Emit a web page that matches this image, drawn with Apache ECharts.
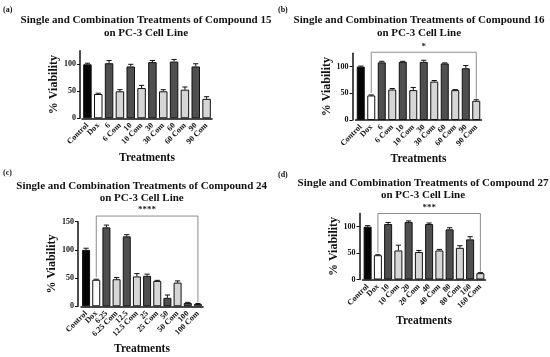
<!DOCTYPE html>
<html>
<head>
<meta charset="utf-8">
<script src="https://cdn.jsdelivr.net/npm/echarts@6/dist/echarts.min.js"></script>
<style>html,body{margin:0;padding:0;background:#fff;}#c{width:550px;height:357px;}</style>
</head>
<body>
<div id="c"></div>
<script>
// ---- Data ----
const catsA = ['Control','Dox','6','6 Com','10','10 Com','30','30 Com','60','60 Com','90','90 Com'];
const valsA = [100, 45, 102, 50, 96, 56, 104, 50, 105, 53, 96, 36];
const errsA = [2, 1.5, 5, 3, 4, 5, 3, 3, 4, 5, 5, 4];

const catsB = ['Control','Dox','6','6 Com','10','10 Com','30','30 Com','60','60 Com','90','90 Com'];
const valsB = [100, 46, 108, 57, 109, 56, 109, 72, 106, 56, 97, 36];
const errsB = [1, 1, 2, 2, 1, 5, 3, 2, 1, 1, 5, 2];

const catsC = ['Control','Dox','6.25','6.25 Com','12.5','12.5 Com','25','25 Com','50','50 Com','100','100 Com'];
const valsC = [100, 47, 140, 48, 124, 53, 54, 45, 15, 42, 6, 4];
const errsC = [3, 1, 4, 3, 3, 5, 3, 1, 5, 3, 1, 1];

const catsD = ['Control','Dox','10','10 Com','20','20 Com','40','40 Com','80','80 Com','160','160 Com'];
const valsD = [100, 46, 105, 55, 109, 52, 105, 55, 95, 60, 76, 12];
const errsD = [2, 1, 3, 10, 2, 3, 2, 2, 3, 4, 5, 1];

const titlesText = [
  'Single and Combination Treatments of Compound 15\non PC-3 Cell Line',
  'Single and Combination Treatments of Compound 16\non PC-3 Cell Line',
  'Single and Combination Treatments of Compound 24\non PC-3 Cell Line',
  'Single and Combination Treatments of Compound 27\non PC-3 Cell Line'
];
const panelLabels = ['(a)','(b)','(c)','(d)'];
const yMaxes = [125, 125, 150, 125];
const yTicks = [[0,50,100],[0,50,100],[0,50,100,150],[0,50,100]];
// significance brackets: [from category index, to category index, level, stars]
const brackets = [null, [1, 11, 127, '*'], [1, 11, 160, '****'], [1, 11, 125, '***']];

// ---- Layout ----
const FONT = 'Liberation Serif';
const panels = [
  {cats: catsA, vals: valsA, errs: errsA, grid: {left: 82, top: 50.8, width: 130, height: 67.5}, yOff: 2, barW: 8.5,
   title: [146, 14.5], label: [3, 6], xGap: 34, yGap: 19},
  {cats: catsB, vals: valsB, errs: errsB, grid: {left: 355.5, top: 53.3, width: 126, height: 66.7}, yOff: 3, barW: 8,
   title: [419, 14.5], label: [278, 6], xGap: 33, yGap: 18},
  {cats: catsC, vals: valsC, errs: errsC, grid: {left: 81, top: 221.7, width: 122, height: 84.6}, yOff: 3, barW: 8,
   title: [141.7, 180.2], label: [3, 169], xGap: 37, yGap: 20},
  {cats: catsD, vals: valsD, errs: errsD, grid: {left: 362.5, top: 213.5, width: 123, height: 66}, yOff: 3, barW: 8,
   title: [423, 177], label: [278, 171], xGap: 36, yGap: 18.5}
];

function colorFor(cat) {
  if (cat === 'Control') return '#050505';
  if (cat === 'Dox') return '#ffffff';
  if (/ Com$/.test(cat)) return '#d6d6d6';
  return '#4f4f4f';
}

const option = {
  backgroundColor: '#fff',
  animation: false,
  title: [],
  grid: [], xAxis: [], yAxis: [], series: []
};

panels.forEach((p, i) => {
  option.title.push({
    text: titlesText[i], left: p.title[0], top: p.title[1], textAlign: 'center', padding: 0,
    textStyle: {fontFamily: FONT, fontWeight: 'bold', fontSize: 11, lineHeight: 12.3, color: '#111'}
  });
  option.title.push({
    text: panelLabels[i], left: p.label[0], top: p.label[1], padding: 0,
    textStyle: {fontFamily: FONT, fontWeight: 'bold', fontSize: 8, color: '#111'}
  });
  option.grid.push(Object.assign({containLabel: false}, p.grid));
  option.xAxis.push({
    type: 'category', gridIndex: i, data: p.cats,
    name: 'Treatments', nameLocation: 'middle', nameGap: p.xGap,
    nameTextStyle: {fontFamily: FONT, fontWeight: 'bold', fontSize: 11.5, color: '#111'},
    axisLine: {lineStyle: {color: '#111', width: 1.5}},
    axisTick: {alignWithLabel: true, length: 3, lineStyle: {color: '#111', width: 1}},
    axisLabel: {rotate: 45, interval: 0, margin: 6, fontFamily: FONT, fontWeight: 'bold', fontSize: 8, color: '#111'}
  });
  option.yAxis.push({
    type: 'value', gridIndex: i, min: 0, max: yMaxes[i], offset: p.yOff,
    name: '% Viability', nameLocation: 'middle', nameGap: p.yGap,
    nameTextStyle: {fontFamily: FONT, fontWeight: 'bold', fontSize: 12, color: '#111'},
    axisLine: {show: true, lineStyle: {color: '#111', width: 1.5}},
    axisTick: {show: true, length: 3, customValues: yTicks[i], lineStyle: {color: '#111', width: 1}},
    axisLabel: {customValues: yTicks[i], margin: 4, fontFamily: FONT, fontWeight: 'bold', fontSize: 8, color: '#111'},
    splitLine: {show: false}
  });
  option.series.push({
    type: 'bar', xAxisIndex: i, yAxisIndex: i, barWidth: p.barW,
    data: p.vals.map((v, k) => ({value: v, itemStyle: {color: colorFor(p.cats[k]), borderColor: '#111', borderWidth: 1}}))
  });
  // error bars (upper only)
  option.series.push({
    type: 'custom', xAxisIndex: i, yAxisIndex: i, z: 3,
    encode: {x: 0, y: 1},
    data: p.vals.map((v, k) => [k, v, p.errs[k]]),
    renderItem: (params, api) => {
      const k = api.value(0), v = api.value(1), e = api.value(2);
      const a = api.coord([k, v]);
      const b = api.coord([k, v + e]);
      const cw = 2.6;
      return {type: 'group', children: [
        {type: 'line', shape: {x1: a[0], y1: a[1], x2: b[0], y2: b[1]}, style: {stroke: '#111', lineWidth: 1}},
        {type: 'line', shape: {x1: b[0] - cw, y1: b[1], x2: b[0] + cw, y2: b[1]}, style: {stroke: '#111', lineWidth: 1}}
      ]};
    }
  });
  const br = brackets[i];
  if (br) {
    option.series.push({
      type: 'custom', xAxisIndex: i, yAxisIndex: i, z: 4, clip: false,
      encode: {x: 0, y: 1},
      data: [[br[0], br[2], br[1]]],
      renderItem: (params, api) => {
        const from = br[0], to = br[1], lvl = br[2];
        const t1 = api.coord([from, lvl]);
        const t2 = api.coord([to, lvl]);
        const e1 = api.coord([from, p.vals[from] + p.errs[from]]);
        const e2 = api.coord([to, p.vals[to] + p.errs[to]]);
        return {type: 'group', children: [
          {type: 'polyline', shape: {points: [[t1[0], e1[1] - 2], [t1[0], t1[1]], [t2[0], t2[1]], [t2[0], e2[1] - 1]]},
           style: {stroke: '#8c8c8c', lineWidth: 1, fill: null}},
          {type: 'text', x: (t1[0] + t2[0]) / 2, y: t1[1] - 1.5,
           style: {text: br[3], align: 'center', verticalAlign: 'bottom', fontFamily: FONT, fontWeight: 'bold', fontSize: 9, fill: '#222'}}
        ]};
      }
    });
  }
});

const chart = echarts.init(document.getElementById('c'), null, {renderer: 'canvas'});
chart.setOption(option);
</script>
</body>
</html>
